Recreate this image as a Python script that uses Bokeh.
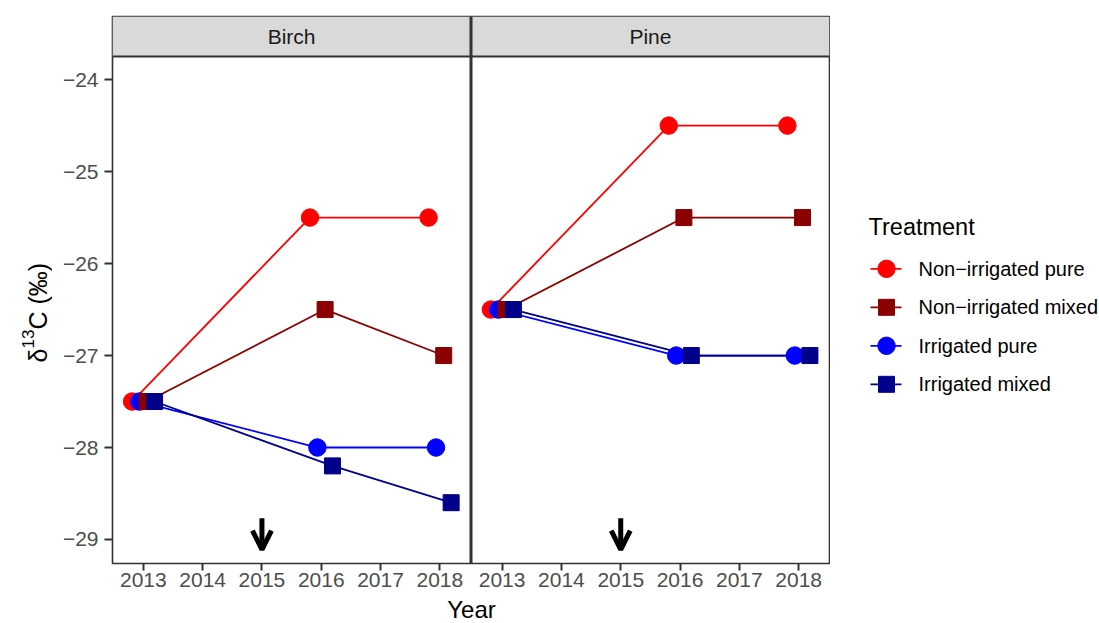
import math
from bokeh.plotting import figure
from bokeh.layouts import row, column
from bokeh.models import (FixedTicker, CustomJSTickFormatter, Label, Arrow, OpenHead,
                          Span, Range1d)
from bokeh.embed import file_html
from bokeh.resources import INLINE

# ---------------- data ----------------
years = [2013, 2016, 2018]
panels = ["Birch", "Pine"]
treatments = ["Non\u2212irrigated pure", "Non\u2212irrigated mixed",
              "Irrigated pure", "Irrigated mixed"]

birch_nonirr_pure = [-27.5, -25.5, -25.5]
birch_nonirr_mixed = [-27.5, -26.5, -27.0]
birch_irr_pure = [-27.5, -28.0, -28.0]
birch_irr_mixed = [-27.5, -28.2, -28.6]

pine_nonirr_pure = [-26.5, -24.5, -24.5]
pine_nonirr_mixed = [-26.5, -25.5, -25.5]
pine_irr_pure = [-26.5, -27.0, -27.0]
pine_irr_mixed = [-26.5, -27.0, -27.0]

arrow_year = 2015
arrow_top = -28.77
arrow_tip = -29.11

x_ticks = [2013, 2014, 2015, 2016, 2017, 2018]
y_ticks = [-29, -28, -27, -26, -25, -24]

# ---------------- styles / layout ----------------
colors = ["#FF0000", "#8B0000", "#0000FF", "#00008B"]
markers = ["circle", "square", "circle", "square"]
sizes = [17.5, 16, 17.5, 16]
dodge = [-0.19, 0.065, -0.065, 0.19]
draw_order = [0, 2, 1, 3]

X_MIN, X_MAX = 2012.48, 2018.52
SHIFT = 6.05
Y_MIN, PANEL_TOP, STRIP_TOP = -29.261, -23.75, -23.314
FONT = "Liberation Sans"
H = 596          # height of the upper row
TOP, BOT = 16, 33  # borders above / below the frame (frame: 16..563 px)
FH = H - TOP - BOT

series = {
    "Birch": [birch_nonirr_pure, birch_nonirr_mixed, birch_irr_pure, birch_irr_mixed],
    "Pine": [pine_nonirr_pure, pine_nonirr_mixed, pine_irr_pure, pine_irr_mixed],
}


def blank(w, h, top=0, bot=0, left=0, right=0, xr=None, yr=None):
    f = figure(width=w, height=h,
               x_range=xr or Range1d(0, w - left - right),
               y_range=yr or Range1d(0, h - top - bot),
               min_border_left=left, min_border_right=right,
               min_border_top=top, min_border_bottom=bot,
               toolbar_location=None, output_backend="svg",
               x_axis_location=None, y_axis_location=None)
    f.outline_line_color = None
    f.grid.visible = False
    f.background_fill_color = "white"
    f.border_fill_color = "white"
    return f


def py(y_pix):
    """picture row -> data y for the side figures (frame 16..563)."""
    return (TOP + FH) - y_pix


# ---------------- main panels ----------------
p = figure(width=778, height=H,
           x_range=Range1d(X_MIN, X_MAX + SHIFT), y_range=Range1d(Y_MIN, STRIP_TOP),
           output_backend="svg", toolbar_location=None,
           min_border_left=60, min_border_right=1, min_border_top=TOP,
           min_border_bottom=BOT)
p.background_fill_color = "white"
p.border_fill_color = "white"
p.xgrid.grid_line_color = None
p.ygrid.grid_line_color = None
p.outline_line_color = "#333333"
p.outline_line_width = 1.6

# strips
p.quad(left=[X_MIN, X_MIN + SHIFT], right=[X_MAX, X_MAX + SHIFT],
       bottom=PANEL_TOP, top=STRIP_TOP, fill_color="#D9D9D9", line_color=None)
p.add_layout(Span(location=PANEL_TOP, dimension="width", line_color="#333333", line_width=2))
p.add_layout(Span(location=(X_MAX + X_MIN + SHIFT) / 2, dimension="height",
                  line_color="#333333", line_width=3))
for i, name in enumerate(panels):
    p.add_layout(Label(x=(X_MIN + X_MAX) / 2 + i * SHIFT, y=(PANEL_TOP + STRIP_TOP) / 2,
                       text=name, text_align="center", text_baseline="middle",
                       text_font=FONT, text_font_size="21px", text_color="#1A1A1A"))

# lines
for pi_, name in enumerate(panels):
    for ti in draw_order:
        xs = [y + pi_ * SHIFT + dodge[ti] for y in years]
        p.line(xs, series[name][ti], line_color=colors[ti], line_width=1.8)

# points
for ti in draw_order:
    xs, ys = [], []
    for pi_, name in enumerate(panels):
        xs += [y + pi_ * SHIFT + dodge[ti] for y in years]
        ys += series[name][ti]
    p.scatter(xs, ys, marker=markers[ti], size=sizes[ti],
              fill_color=colors[ti], line_color=colors[ti])

# arrows
for pi_ in range(len(panels)):
    p.add_layout(Arrow(x_start=arrow_year + pi_ * SHIFT, y_start=arrow_top,
                       x_end=arrow_year + pi_ * SHIFT, y_end=arrow_tip,
                       line_width=5, line_color="black",
                       end=OpenHead(size=19, line_width=5, line_color="black")))

# axes
p.xaxis.ticker = FixedTicker(ticks=x_ticks + [t + SHIFT for t in x_ticks])
p.xaxis.formatter = CustomJSTickFormatter(
    args=dict(lim=X_MAX + 0.01, shift=SHIFT),
    code="return String(Math.round(tick > lim ? tick - shift : tick));")
p.yaxis.ticker = FixedTicker(ticks=y_ticks)
p.yaxis.formatter = CustomJSTickFormatter(
    code="return (tick < 0 ? '\\u2212' : '') + Math.abs(tick).toFixed(0);")
for ax in (p.xaxis[0], p.yaxis[0]):
    ax.axis_line_color = None
    ax.major_tick_line_color = "#333333"
    ax.major_tick_line_width = 2
    ax.major_tick_in = 0
    ax.minor_tick_line_color = None
    ax.major_label_text_font = FONT
    ax.major_label_text_font_size = "21px"
    ax.major_label_text_color = "#4D4D4D"
p.xaxis.major_tick_out = 7
p.yaxis.major_tick_out = 8
p.xaxis.major_label_standoff = 2
p.yaxis.major_label_standoff = 6

# ---------------- y title: delta^13 C (permil) ----------------
left = blank(52, H, top=TOP, bot=BOT)
MID_X = 37
left.add_layout(Label(x=MID_X, y=py(362), text="\u03b4", angle=math.pi / 2,
                      text_align="left", text_baseline="middle",
                      text_font=FONT, text_font_size="25px", text_color="black"))
left.add_layout(Label(x=MID_X - 10, y=py(348), text="13", angle=math.pi / 2,
                      text_align="left", text_baseline="middle",
                      text_font=FONT, text_font_size="17px", text_color="black"))
left.add_layout(Label(x=MID_X, y=py(329), text="C (\u2030)", angle=math.pi / 2,
                      text_align="left", text_baseline="middle",
                      text_font=FONT, text_font_size="25px", text_color="black"))

# ---------------- legend ----------------
leg = blank(269, H, top=TOP, bot=BOT)
leg.add_layout(Label(x=38, y=py(226.5), text="Treatment", text_align="left",
                     text_baseline="middle", text_font=FONT, text_font_size="23.5px",
                     text_color="black"))
for ti in range(4):
    yc = py(268.3 + 38.5 * ti)
    leg.line([40, 71], [yc, yc], line_color=colors[ti], line_width=1.8)
    leg.scatter([56], [yc], marker=markers[ti], size=sizes[ti],
                fill_color=colors[ti], line_color=colors[ti])
    leg.add_layout(Label(x=88, y=yc, text=treatments[ti], text_align="left",
                         text_baseline="middle", text_font=FONT, text_font_size="20px",
                         text_color="black"))

# ---------------- x title ----------------
BH = 623 - H
bottom = blank(1099, BH, left=112, right=270,
               xr=Range1d(112, 829), yr=Range1d(0, BH))
bottom.add_layout(Label(x=471, y=0.5, text="Year", text_align="center",
                        text_baseline="bottom", text_font=FONT, text_font_size="24px",
                        text_color="black"))

layout = column(row(left, p, leg), bottom)
open("out.html", "w").write(file_html(layout, INLINE))
